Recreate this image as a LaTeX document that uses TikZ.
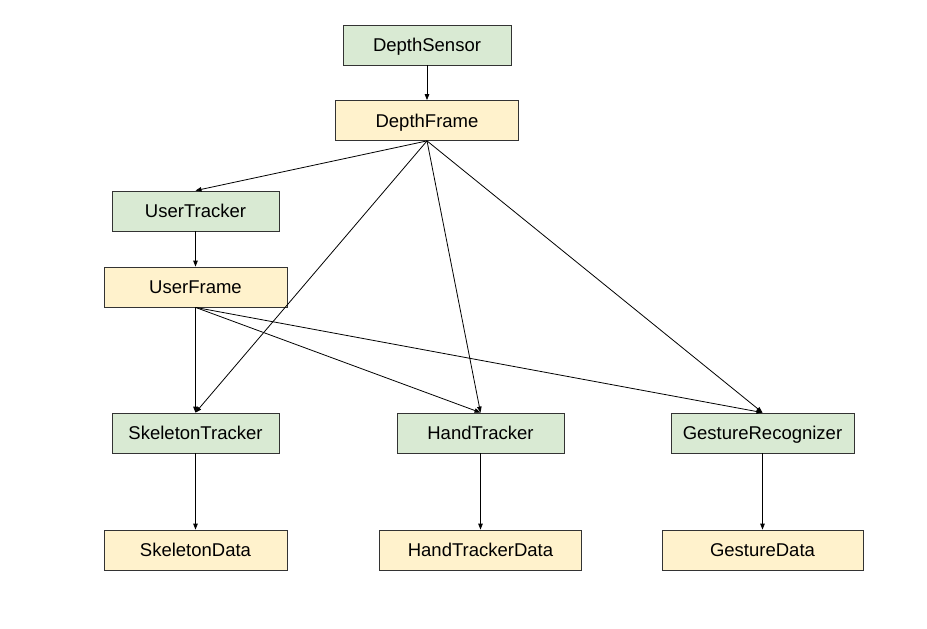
\documentclass[tikz,border=0pt]{standalone}
\usepackage{fontspec}
\setmainfont{Liberation Sans}
\usetikzlibrary{arrows.meta}
\definecolor{gfill}{HTML}{D9EAD3}
\definecolor{yfill}{HTML}{FFF2CC}
\definecolor{bline}{HTML}{333333}
\begin{document}
\begin{tikzpicture}[x=1pt,y=-1pt,
  box/.style={draw=bline,line width=0.8pt,inner sep=0pt,minimum height=40pt,text height=16.5pt,text depth=3.5pt,font=\fontsize{18.5}{22}\selectfont},
  gbox/.style={box,fill=gfill},
  ybox/.style={box,fill=yfill},
  conn/.style={draw=black,line width=0.8pt,-{Triangle[length=6pt,width=4.5pt]}}]
\useasboundingbox (0,0) rectangle (927,629);
\node[gbox,minimum width=168pt] (ds) at (427,45) {DepthSensor};
\node[ybox,minimum width=183pt] (df) at (427,120.5) {DepthFrame};
\node[gbox,minimum width=167pt] (ut) at (195.5,211) {UserTracker};
\node[ybox,minimum width=183pt] (uf) at (195.5,287) {UserFrame};
\node[gbox,minimum width=167pt] (st) at (195.5,433) {SkeletonTracker};
\node[gbox,minimum width=167pt] (ht) at (480.5,433) {HandTracker};
\node[gbox,minimum width=183pt] (gr) at (762.5,433) {GestureRecognizer};
\node[ybox,minimum width=183pt] (sd) at (195.5,550) {SkeletonData};
\node[ybox,minimum width=202pt] (hd) at (480.5,550) {HandTrackerData};
\node[ybox,minimum width=201pt] (gd) at (762.5,550) {GestureData};
\draw[conn] (ds.south) -- (df.north);
\draw[conn] (df.south) -- (ut.north);
\draw[conn] (df.south) -- (st.north);
\draw[conn] (df.south) -- (ht.north);
\draw[conn] (df.south) -- (gr.north);
\draw[conn] (ut.south) -- (uf.north);
\draw[conn] (uf.south) -- (st.north);
\draw[conn] (uf.south) -- (ht.north);
\draw[conn] (uf.south) -- (gr.north);
\draw[conn] (st.south) -- (sd.north);
\draw[conn] (ht.south) -- (hd.north);
\draw[conn] (gr.south) -- (gd.north);
\end{tikzpicture}
\end{document}
